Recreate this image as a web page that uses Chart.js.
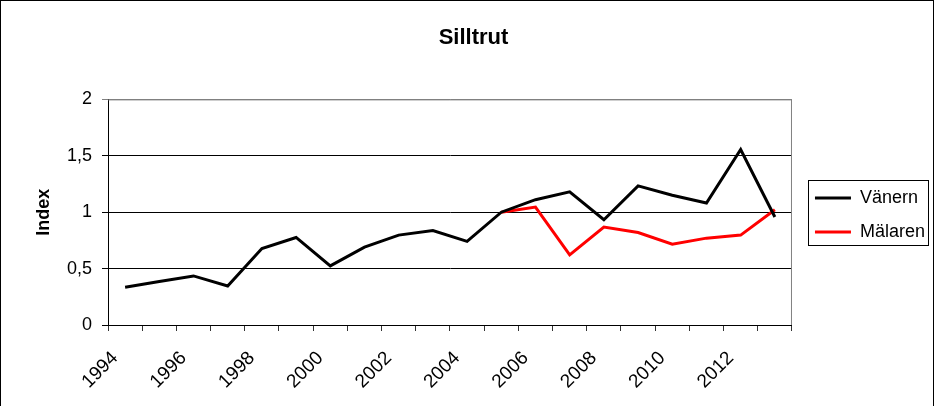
<!DOCTYPE html>
<html>
<head>
<meta charset="utf-8">
<script src="https://cdn.jsdelivr.net/npm/chart.js@4.4.1/dist/chart.umd.min.js"></script>
<style>
  html, body { margin: 0; padding: 0; background: #fff; }
  #wrap { width: 934px; height: 406px; border-left: 1px solid #000; border-top: 1px solid #000; border-right: 1px solid #000; box-sizing: border-box; }
</style>
</head>
<body>
<div id="wrap"><canvas id="chart" width="932" height="406"></canvas></div>
<script>
const years = ['1994','1995','1996','1997','1998','1999','2000','2001','2002','2003',
               '2004','2005','2006','2007','2008','2009','2010','2011','2012','2013'];
const vanern = [0.335, 0.385, 0.435, 0.346, 0.678, 0.776, 0.524, 0.69, 0.797, 0.838,
                0.741, 1.0, 1.111, 1.18, 0.933, 1.233, 1.15, 1.081, 1.556, 0.957];
const malaren = [null, null, null, null, null, null, null, null, null, null,
                 null, 1.0, 1.046, 0.622, 0.868, 0.82, 0.717, 0.77, 0.797, 1.022];
const yTicks = [0, 0.5, 1, 1.5, 2];

const font = 'Arial, "Liberation Sans", sans-serif';

// gray frame round the plot area and a box round the legend
const frames = {
  id: 'frames',
  afterLayout(chart) {
    const l = chart.legend;
    const dx = chart.chartArea.right + 7 - l.left;
    const dy = 11;
    l.left += dx; l.right += dx; l.top += dy; l.bottom += dy;
    l.legendHitBoxes.forEach(h => { h.left += dx; h.top += dy; });
    const t = chart.titleBlock;
    t.left += 9; t.right += 9; t.top += 1; t.bottom += 1;
  },
  beforeDatasetsDraw(chart) {
    const a = chart.chartArea, ctx = chart.ctx;
    ctx.save();
    ctx.strokeStyle = '#808080';
    ctx.lineWidth = 1;
    ctx.beginPath();
    ctx.moveTo(a.left, a.top + 0.5);
    ctx.lineTo(a.right - 0.5, a.top + 0.5);
    ctx.lineTo(a.right - 0.5, a.bottom);
    ctx.stroke();
    ctx.restore();
  },
  afterDraw(chart) {
    const l = chart.legend, hb = l.legendHitBoxes, ctx = chart.ctx;
    const x0 = Math.round(l.left) + 9, y0 = Math.round(hb[0].top) - 9;
    const y1 = Math.round(hb[hb.length - 1].top) + 22;
    ctx.save();
    ctx.strokeStyle = '#000';
    ctx.lineWidth = 1;
    ctx.strokeRect(x0 + 0.5, y0 + 0.5, 120, y1 - y0);
    ctx.restore();
  }
};

new Chart(document.getElementById('chart'), {
  type: 'line',
  data: {
    labels: years,
    datasets: [
      { label: 'Vänern', data: vanern, borderColor: '#000', backgroundColor: '#000', borderWidth: 3, pointRadius: 0, tension: 0 },
      { label: 'Mälaren', data: malaren, borderColor: '#ff0000', backgroundColor: '#ff0000', borderWidth: 3, pointRadius: 0, tension: 0 }
    ]
  },
  options: {
    responsive: false,
    animation: false,
    layout: { padding: { top: 0, right: 5, bottom: 0, left: 0 } },
    plugins: {
      title: {
        display: true, text: 'Silltrut', color: '#000',
        font: { family: font, size: 22, weight: 'bold' },
        padding: { top: 23, bottom: 49 }
      },
      legend: {
        position: 'right',
        labels: {
          color: '#000', font: { family: font, size: 18 },
          usePointStyle: true, pointStyle: 'line', pointStyleWidth: 36, padding: 16
        }
      },
      tooltip: { enabled: false }
    },
    scales: {
      x: {
        offset: true,
        grid: { offset: true, drawOnChartArea: false, drawTicks: true, tickLength: 6, color: '#333' },
        border: { color: '#000', width: 1 },
        ticks: {
          color: '#000', font: { family: font, size: 19 },
          autoSkip: false, maxRotation: 45, minRotation: 45, padding: 16, labelOffset: -10,
          callback: function(v, i) { return i % 2 === 0 ? this.getLabelForValue(v) : ''; }
        },
        afterFit(s) { s.height = 82; }
      },
      y: {
        min: 0, max: 2,
        afterBuildTicks(s) { s.ticks = yTicks.map(v => ({ value: v })); },
        grid: { color: (c) => c.tick && c.tick.value === 2 ? '#808080' : '#000', tickLength: 6 },
        border: { color: '#000', width: 1 },
        ticks: {
          color: '#000', font: { family: font, size: 18 }, padding: 10,
          callback: (v) => String(v).replace('.', ',')
        },
        title: { display: true, text: 'Index', color: '#000', font: { family: font, size: 18, weight: 'bold' }, padding: { top: 32, bottom: 0 } },
        afterFit(s) { s.width = 107; }
      }
    }
  },
  plugins: [frames]
});
</script>
</body>
</html>
